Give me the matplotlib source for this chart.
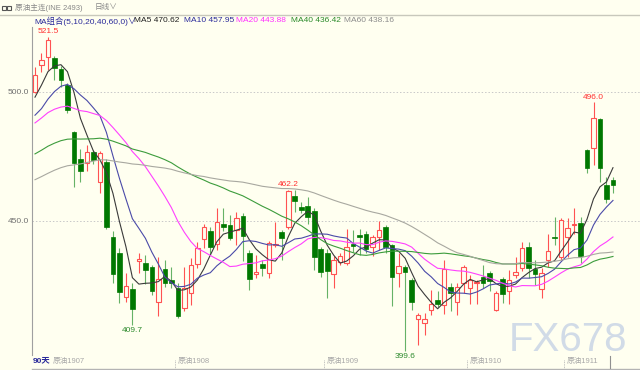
import matplotlib
matplotlib.use("Agg")
import matplotlib.pyplot as plt
from matplotlib.lines import Line2D
from matplotlib.patches import Rectangle
import numpy as np
import pandas as pd

plt.rcParams["font.family"] = ["Liberation Sans", "Noto Sans CJK SC", "DejaVu Sans"]

# daily candles (90 bars)
open_ = [500.0, 510.5, 513.7, 513.0, 509.0, 502.7, 484.6, 474.0, 472.4, 476.9,
         465.0, 472.8, 443.7, 437.7, 420.7, 423.5, 434.5, 433.6, 432.0, 418.7,
         431.3, 427.0, 424.2, 416.2, 422.0, 433.3, 443.0, 446.3, 441.0, 448.8,
         448.4, 446.5, 452.0, 437.7, 429.4, 433.2, 429.7, 440.8, 445.9, 447.8,
         459.7, 455.3, 455.8, 454.0, 439.0, 437.7, 429.5, 434.0, 433.6, 441.2,
         444.5, 445.0, 440.0, 443.7, 447.6, 440.7, 430.0, 432.0, 427.1, 411.9,
         410.4, 415.5, 419.4, 417.4, 424.3, 418.7, 426.1, 423.9, 425.9, 428.2,
         429.7, 415.5, 427.4, 423.0, 429.0, 431.7, 440.0, 431.4, 423.5, 434.9,
         443.8, 436.2, 443.7, 448.6, 449.3, 477.5, 478.2, 489.4, 464.0, 466.0]
high = [509.8, 515.0, 521.5, 514.0, 510.0, 503.5, 485.0, 478.0, 479.5, 477.5,
        477.0, 474.0, 446.0, 439.5, 430.0, 426.0, 437.5, 436.8, 433.0, 436.0,
        435.0, 432.0, 426.0, 432.3, 435.5, 442.0, 449.0, 447.5, 455.0, 455.2,
        452.3, 453.6, 453.0, 438.8, 436.8, 434.9, 442.4, 449.7, 446.5, 462.2,
        462.0, 457.5, 459.4, 455.0, 440.0, 439.0, 436.4, 437.5, 446.8, 446.5,
        447.0, 446.0, 444.6, 450.0, 448.5, 441.0, 437.5, 433.0, 428.0, 414.5,
        414.2, 423.3, 423.0, 435.0, 426.0, 426.0, 433.0, 429.0, 427.0, 433.0,
        430.5, 423.0, 428.4, 431.0, 436.0, 441.8, 441.8, 435.0, 431.7, 445.0,
        451.7, 451.0, 451.0, 455.0, 451.7, 478.0, 496.0, 490.0, 467.2, 467.2]
low = [499.5, 507.9, 508.5, 504.6, 502.0, 491.9, 463.3, 465.0, 469.4, 472.0,
       461.0, 447.0, 426.0, 418.2, 418.5, 409.7, 430.0, 425.6, 421.3, 413.0,
       424.5, 424.0, 412.3, 415.0, 417.4, 431.7, 439.4, 436.8, 438.8, 446.0,
       442.6, 440.7, 434.6, 423.3, 427.8, 428.7, 428.0, 440.0, 435.0, 447.0,
       453.6, 453.0, 449.0, 431.0, 428.4, 420.0, 423.9, 433.0, 432.8, 438.0,
       437.0, 437.5, 436.4, 438.8, 437.5, 417.0, 424.5, 399.6, 415.5, 402.0,
       405.8, 413.6, 416.6, 414.0, 415.3, 413.6, 422.0, 418.0, 418.0, 424.0,
       423.0, 415.0, 418.1, 418.0, 428.0, 430.5, 427.8, 425.2, 420.0, 432.3,
       440.7, 435.0, 436.0, 445.0, 433.6, 468.5, 471.7, 465.2, 456.9, 460.7]
close = [506.6, 512.4, 520.0, 509.2, 504.7, 493.0, 472.4, 469.5, 476.9, 473.6,
         476.2, 447.6, 429.4, 422.4, 424.8, 415.9, 435.2, 431.0, 423.0, 427.5,
         426.0, 425.8, 413.3, 424.0, 433.0, 439.4, 447.6, 440.0, 449.7, 447.8,
         443.3, 451.3, 444.0, 427.4, 430.1, 431.9, 441.6, 441.2, 443.3, 461.6,
         457.9, 454.3, 451.7, 436.0, 430.4, 430.7, 434.9, 436.4, 440.0, 440.4,
         443.9, 439.0, 443.9, 446.5, 440.0, 428.2, 432.7, 430.4, 418.7, 413.6,
         412.0, 417.8, 417.8, 431.3, 422.2, 424.3, 432.0, 427.1, 426.5, 425.9,
         426.9, 422.0, 421.7, 427.1, 430.1, 439.4, 431.7, 429.5, 429.7, 438.5,
         443.4, 450.4, 447.2, 449.0, 436.4, 470.4, 489.8, 470.7, 458.4, 464.0]

# closes before the visible window, estimated so the MA lines start where they do
close_before = [440, 443, 438, 445, 449, 452, 447, 444, 441, 446,
                450, 453, 448, 444, 442, 447, 451, 449, 446, 445,
                455, 458, 462, 466, 470, 468, 472, 475, 471, 467,
                463, 460, 458, 462, 465, 461, 458, 460, 462, 467,
                474, 478, 483, 488, 486, 490, 487, 484, 489, 491,
                487, 483, 480, 484, 486, 489, 494, 498, 502.4]

ma_periods = [5, 10, 20, 40, 60]
ma_colors = ["#3a3a3a", "#4a4aa8", "#ff40ff", "#3c9c3c", "#a8a8a0"]
ma_labels = ["MA5 470.62", "MA10 457.95", "MA20 443.88", "MA40 436.42", "MA60 438.16"]
ma_label_colors = ["#202020", "#2a2a9a", "#ff30ff", "#2a8a2a", "#8c8c8c"]
ma_label_x = [134, 184, 236, 291, 344]

month_labels = ["原油1908", "原油1909", "原油1910", "原油1911"]
month_start = [22, 45, 67, 82]

marks = [(2, "521.5", "high"), (15, "409.7", "low"), (39, "462.2", "high"),
         (57, "399.6", "low"), (86, "496.0", "high")]

BG = "#fffff0"
UP = "#ff5252"
DOWN = "#007800"
DOWN_WICK = "#66b266"
W, H = 640, 370


def fx(px):
    return px / W


def fy(py):
    return 1 - py / H


fig = plt.figure(figsize=(6.4, 3.7), dpi=100, facecolor=BG)
ax = fig.add_axes([fx(32), fy(355), (W - 32) / W, (355 - 27) / H])
ax.set_facecolor(BG)
for side in ["top", "right", "bottom"]:
    ax.spines[side].set_visible(False)
ax.spines["left"].set_color("#a0a0a0")
ax.set_xlim(-0.46, 93.16)
ax.set_ylim(398.06, 525.19)
ax.set_xticks([])
ax.set_yticks([450, 500])
ax.set_yticklabels(["450.0", "500.0"])
ax.tick_params(axis="y", length=0, pad=2, labelsize=6, labelcolor="#707070")
for lvl in [450, 500]:
    ax.axhline(lvl, color="#c8c8c8", lw=0.7, ls=(0, (1.5, 2)), zorder=0)

o = np.array(open_)
h = np.array(high)
l = np.array(low)
c = np.array(close)
x = np.arange(len(c))
up = c >= o

ax.vlines(x, l, h, colors=np.where(up, UP, DOWN_WICK), lw=0.8, zorder=2)
body_bottom = np.minimum(o, c)
body_h = np.maximum(np.abs(c - o), 0.3)
ax.bar(x[up], body_h[up], bottom=body_bottom[up], width=0.7,
       facecolor=BG, edgecolor=UP, lw=0.8, zorder=3)
ax.bar(x[~up], body_h[~up], bottom=body_bottom[~up], width=0.7,
       facecolor=DOWN, edgecolor=DOWN, lw=0.5, zorder=3)

full = pd.Series(close_before + close)
for n, col in zip(ma_periods, ma_colors):
    ma = full.rolling(n).mean().iloc[len(close_before):].to_numpy()
    ax.plot(x, ma, color=col, lw=0.8, zorder=4)

for i, txt, side in marks:
    if side == "high":
        ax.text(i, h[i] + 0.6, txt, color="#ff3030", fontsize=6,
                ha="center", va="bottom", zorder=5)
    else:
        ax.text(i, l[i] - 0.6, txt, color="#2e8b2e", fontsize=6,
                ha="center", va="top", zorder=5, clip_on=False)

# header strip
fig.add_artist(Line2D([0, 1], [fy(15), fy(15)], color="#c8c8bc", lw=1))
fig.add_artist(Rectangle((fx(2), fy(10)), 4 / W, 4 / H, fill=False,
                         ec="#555555", lw=0.8))
fig.add_artist(Rectangle((fx(7), fy(10)), 4 / W, 4 / H, fill=False,
                         ec="#555555", lw=0.8))
fig.text(fx(15), fy(8), "原油主连(INE 2493)", fontsize=5.5, color="#888888",
         va="center", ha="left")
fig.text(fx(95), fy(8), "日线∨", fontsize=5.5, color="#888888",
         va="center", ha="left")

fig.text(fx(34), fy(21), "MA组合(5,10,20,40,60,0)∨", fontsize=6,
         color="#2a2a9a", va="center", ha="left")
for lab, px, col in zip(ma_labels, ma_label_x, ma_label_colors):
    fig.text(fx(px), fy(21), lab, fontsize=6, color=col, va="center", ha="left")

# bottom strip
fig.add_artist(Line2D([fx(32), 1], [fy(369), fy(369)], color="#b4b4b4", lw=1))
fig.text(fx(33), fy(361), "90天", fontsize=6, color="#2a2a9a",
         va="center", ha="left", fontweight="bold")
fig.text(fx(53), fy(361), "原油1907", fontsize=5.5, color="#a8a8a8",
         va="center", ha="left")
for lab, i in zip(month_labels, month_start):
    xp = i - 0.5
    ax.plot([xp, xp], [396.2, 392.0], color="#b0b0b0", lw=0.6,
            ls=(0, (1, 1)), clip_on=False)
    ax.annotate(lab, (xp, 0), xycoords=("data", "figure fraction"),
                xytext=(2, fy(361) * H), textcoords=("offset points", "figure pixels"),
                fontsize=5.5, color="#a8a8a8", va="center", ha="left")
fig.add_artist(Line2D([fx(610), fx(610)], [fy(356), fy(368)], color="#909090", lw=0.8))

fig.text(fx(509), fy(351), "FX678", fontsize=29, color="#c9d5e6",
         va="baseline", ha="left", alpha=0.85)

fig.savefig("out.png", dpi=100, facecolor=BG)
